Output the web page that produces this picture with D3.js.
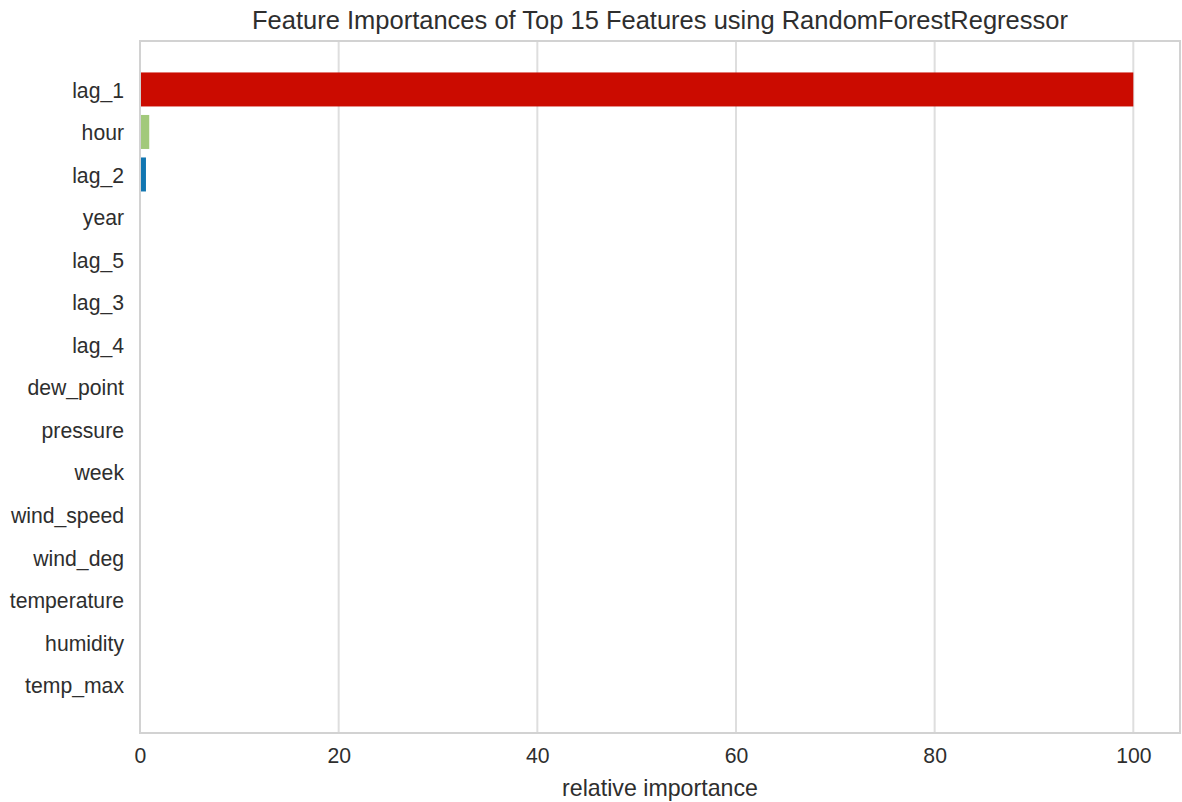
<!DOCTYPE html>
<html>
<head>
<meta charset="utf-8">
<script src="https://cdn.jsdelivr.net/npm/d3@7"></script>
<style>
  html, body { margin: 0; padding: 0; background: #ffffff; }
  svg text { font-family: "Liberation Sans", Arial, Helvetica, sans-serif; fill: #2e2e2e; }
</style>
</head>
<body>
<svg id="chart" width="1182" height="802"></svg>
<script>
// Feature names, most important first
const features = [
  "lag_1", "hour", "lag_2", "year", "lag_5", "lag_3", "lag_4", "dew_point",
  "pressure", "week", "wind_speed", "wind_deg", "temperature", "humidity", "temp_max"
];
// Relative importance (percent of the strongest feature)
const importances = [
  100, 0.93, 0.6, 0.07, 0.06, 0.05, 0.05, 0.04,
  0.04, 0.03, 0.03, 0.02, 0.02, 0.02, 0.01
];
const barColors = [
  "#cb0b00", "#a2c97b", "#1176b1", "#cb0b00", "#a2c97b", "#1176b1", "#cb0b00", "#a2c97b",
  "#1176b1", "#cb0b00", "#a2c97b", "#1176b1", "#cb0b00", "#a2c97b", "#1176b1"
];
const xTicks = [0, 20, 40, 60, 80, 100];

const titleText = "Feature Importances of Top 15 Features using RandomForestRegressor";
const xLabelText = "relative importance";

const plot = { left: 140, right: 1180, top: 41, bottom: 733 };
const xMax = 104.7;

const svg = d3.select("#chart");

const x = d3.scaleLinear().domain([0, xMax]).range([plot.left, plot.right]);
const y = d3.scaleBand().domain(features).range([plot.top, plot.bottom])
  .paddingInner(0.2).paddingOuter(0.74);

// vertical grid lines
svg.append("g")
  .selectAll("line")
  .data(xTicks)
  .join("line")
  .attr("x1", d => x(d)).attr("x2", d => x(d))
  .attr("y1", plot.top).attr("y2", plot.bottom)
  .attr("stroke", "#dedede").attr("stroke-width", 2);

// bars
svg.append("g")
  .selectAll("rect")
  .data(features)
  .join("rect")
  .attr("x", x(0))
  .attr("y", d => y(d))
  .attr("width", (d, i) => x(importances[i]) - x(0))
  .attr("height", y.bandwidth())
  .attr("fill", (d, i) => barColors[i]);

// frame
svg.append("rect")
  .attr("x", plot.left).attr("y", plot.top)
  .attr("width", plot.right - plot.left).attr("height", plot.bottom - plot.top)
  .attr("fill", "none").attr("stroke", "#d2d2d2").attr("stroke-width", 2);

// x axis labels
const xAxis = d3.axisBottom(x).tickValues(xTicks).tickSize(0).tickPadding(15).tickFormat(d3.format("d"));
const gx = svg.append("g").attr("transform", `translate(0,${plot.bottom})`).call(xAxis);
gx.select(".domain").remove();
gx.selectAll("text").style("font-size", "21.2px").attr("fill", "#2e2e2e");

// y axis labels
const yAxis = d3.axisLeft(y).tickSize(0).tickPadding(16);
const gy = svg.append("g").attr("transform", `translate(${plot.left},0)`).call(yAxis);
gy.select(".domain").remove();
gy.selectAll("text").style("font-size", "21.2px").attr("fill", "#2e2e2e").attr("dy", "0.4em");

// title
svg.append("text")
  .attr("x", (plot.left + plot.right) / 2).attr("y", 29)
  .attr("text-anchor", "middle")
  .style("font-size", "25.5px")
  .text(titleText);

// x label
svg.append("text")
  .attr("x", (plot.left + plot.right) / 2).attr("y", 796)
  .attr("text-anchor", "middle")
  .style("font-size", "23.2px")
  .text(xLabelText);
</script>
</body>
</html>
